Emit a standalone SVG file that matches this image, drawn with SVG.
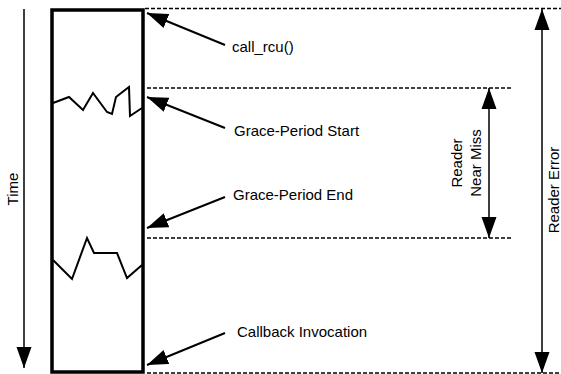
<svg xmlns="http://www.w3.org/2000/svg" width="561" height="374" viewBox="0 0 561 374">
<defs>
<marker id="ah" markerUnits="userSpaceOnUse" markerWidth="22" markerHeight="16" refX="21" refY="8" orient="auto-start-reverse" viewBox="0 0 22 16">
<path d="M0,0.5 L21,8 L0,15.5 Z" fill="#000"/>
</marker>
</defs>
<style>
.t{font-family:"Liberation Sans",Arial,sans-serif;font-size:15px;fill:#000}
.dash{stroke:#000;stroke-width:1.5;stroke-dasharray:4 2;fill:none}
.ptr{stroke:#000;stroke-width:2;fill:none;marker-end:url(#ah)}
.zig{stroke:#000;stroke-width:2;fill:none;stroke-linejoin:miter}
</style>
<rect width="561" height="374" fill="#fff"/>
<g id="timeline">
<rect x="52" y="10" width="91" height="362" fill="none" stroke="#000" stroke-width="3.5"/>
<polyline class="zig" points="53,103 69,97 83,110 93,93 107,112 112,114 116,97 129,87 130,116 142,108"/>
<polyline class="zig" points="53,260 72,279 87,238 94,253 117,253 127,278 142,265"/>
</g>
<g id="time-axis">
<line x1="24" y1="9" x2="24" y2="368" stroke="#000" stroke-width="1.5" marker-end="url(#ah)"/>
<text class="t" transform="translate(18,189) rotate(-90)" text-anchor="middle">Time</text>
</g>
<g id="connectors">
<line class="dash" x1="145" y1="8.5" x2="561" y2="8.5"/>
<line class="dash" x1="147" y1="88" x2="513" y2="88"/>
<line class="dash" x1="147" y1="238" x2="513" y2="238"/>
<line class="dash" x1="147" y1="373" x2="561" y2="373" stroke="#999"/>
<line class="ptr" x1="225" y1="45" x2="147" y2="13"/>
<line class="ptr" x1="225" y1="128" x2="147" y2="97"/>
<line class="ptr" x1="225" y1="197" x2="147" y2="228"/>
<line class="ptr" x1="225" y1="333" x2="147" y2="365"/>
<line x1="489" y1="88" x2="489" y2="238" stroke="#000" stroke-width="1.5" marker-start="url(#ah)" marker-end="url(#ah)"/>
<line x1="542" y1="9" x2="542" y2="373" stroke="#000" stroke-width="1.5" marker-start="url(#ah)" marker-end="url(#ah)"/>
</g>
<g id="call-rcu"><text class="t" x="232" y="52">call_rcu()</text></g>
<g id="gp-start"><text class="t" x="234" y="136">Grace-Period Start</text></g>
<g id="gp-end"><text class="t" x="233" y="200">Grace-Period End</text></g>
<g id="callback"><text class="t" x="237" y="337">Callback Invocation</text></g>
<g id="near-miss">
<text class="t" transform="translate(462,163) rotate(-90)" text-anchor="middle">Reader</text>
<text class="t" transform="translate(481,163) rotate(-90)" text-anchor="middle">Near Miss</text>
</g>
<g id="reader-error">
<text class="t" transform="translate(558.5,190) rotate(-90)" text-anchor="middle">Reader Error</text>
</g>
</svg>
